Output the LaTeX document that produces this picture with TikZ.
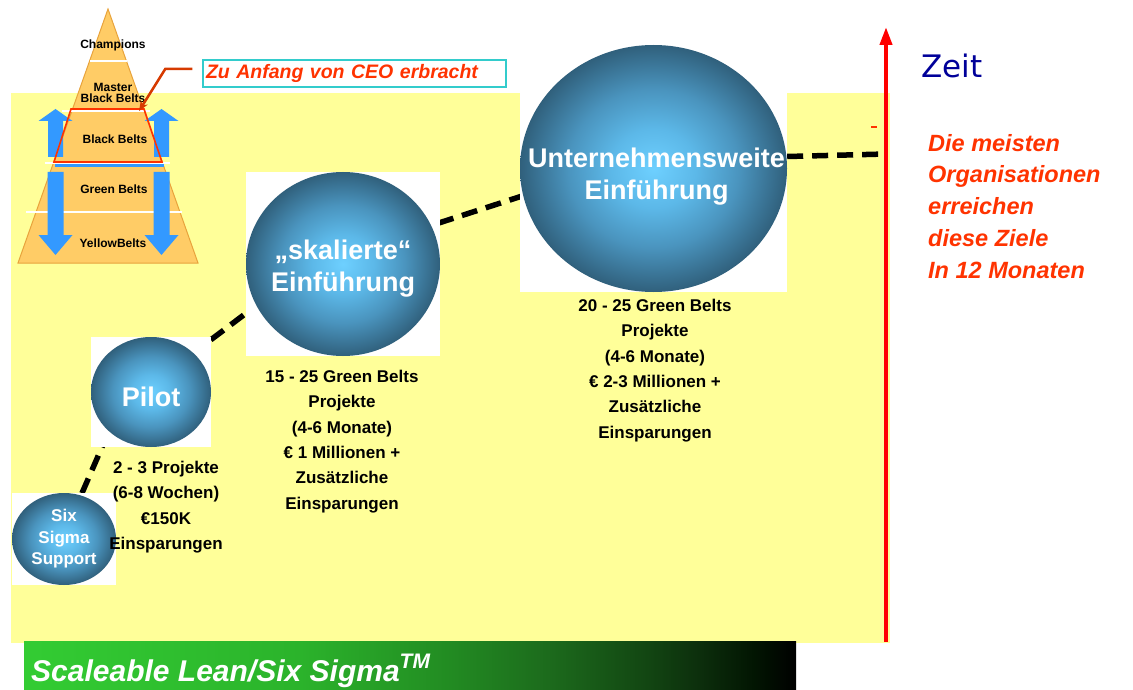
\documentclass[tikz,border=0pt]{standalone}
\usepackage{fontspec}
\setmainfont{Liberation Sans}
\newfontfamily\zeitfont{DejaVu Sans}
\usetikzlibrary{arrows.meta,calc,shapes.geometric}

\definecolor{paperyellow}{HTML}{FFFF99}
\definecolor{pyrfill}{HTML}{FFCC66}
\definecolor{pyredge}{HTML}{E8A33C}
\definecolor{beltblue}{HTML}{3399FF}
\definecolor{alertred}{HTML}{FF3300}
\definecolor{calloutline}{HTML}{D63A00}
\definecolor{boxcyan}{HTML}{33CCCC}
\definecolor{zeitblue}{HTML}{000099}
\definecolor{ballcore}{HTML}{6ED0FF}
\definecolor{ballinner}{HTML}{5CB8E8}
\definecolor{ballmid}{HTML}{4A94BE}
\definecolor{balledge}{HTML}{30607C}
\definecolor{barA}{HTML}{33CC33}
\definecolor{barB}{HTML}{2BB32B}
\definecolor{barC}{HTML}{228B22}
\definecolor{barD}{HTML}{1C6A1C}
\definecolor{barE}{HTML}{124512}
\definecolor{barF}{HTML}{0C2E0C}
\definecolor{barG}{HTML}{021502}

% glossy sphere for the rollout stages
\pgfdeclareradialshading{ball}{\pgfpoint{0bp}{0bp}}{%
  color(0bp)=(ballcore); color(8bp)=(ballinner); color(16bp)=(ballmid);
  color(25bp)=(balledge); color(50bp)=(balledge)}
% title bar fading from green to black
\pgfdeclarehorizontalshading{greenbar}{100bp}{%
  color(0bp)=(barA); color(25bp)=(barA); color(42.9bp)=(barB);
  color(52.6bp)=(barC); color(59.1bp)=(barD); color(65.5bp)=(barE);
  color(68.8bp)=(barF); color(72.3bp)=(barG); color(75bp)=(black);
  color(100bp)=(black)}

\pgfdeclarelayer{paper}
\pgfdeclarelayer{conn}
\pgfsetlayers{paper,conn,main}

\begin{document}
\begin{tikzpicture}[x=1pt,y=-1pt,
  ballbox/.style={rectangle, fill=white, inner sep=0pt,
    path picture={\shade[shading=ball]
      let \p1=($(path picture bounding box.north east)-(path picture bounding box.center)$)
      in (path picture bounding box.center) ellipse [x radius=\x1, y radius=\y1];}},
  ballcaption/.style={inner sep=0pt, text=white, align=center,
    font=\bfseries\fontsize{27}{32}\selectfont},
  infotext/.style={anchor=north, inner sep=0pt, align=center,
    font=\bfseries\fontsize{17}{25.3}\selectfont},
  beltlabel/.style={inner sep=0pt, align=center, font=\bfseries\fontsize{12}{11}\selectfont},
  roadmap/.style={line width=5.5pt, dash pattern=on 16pt off 9pt},
  sepline/.style={white, line width=1.2pt},
]
\useasboundingbox (0,0) rectangle (1133,690);

% yellow working area
\begin{pgfonlayer}{paper}
  \fill[paperyellow] (11,93) rectangle (890,643);
\end{pgfonlayer}

% belt pyramid
\filldraw[fill=pyrfill, draw=pyredge, line width=1pt] (108,9) -- (198,263) -- (18,263) -- cycle;
\draw[sepline] (90,61) -- (127,61);
\draw[sepline] (62,111) -- (150,111);
\draw[sepline] (45,163) -- (170,163);
\draw[sepline] (26,212) -- (182,212);
\foreach \cx in {55.5,161.5}{
  \fill[beltblue] (\cx-7.5,157) -- (\cx-7.5,121) -- (\cx-17,121) -- (\cx,109)
    -- (\cx+17,121) -- (\cx+7.5,121) -- (\cx+7.5,157) -- cycle;
  \fill[beltblue] (\cx-8,172) -- (\cx+8,172) -- (\cx+8,235) -- (\cx+17,235)
    -- (\cx,255) -- (\cx-17,235) -- (\cx-8,235) -- cycle;
}
\draw[alertred, line width=1.6pt] (71,109) -- (144,109) -- (162,162) -- (54,162) -- cycle;
\draw[beltblue, line width=3pt] (55,165.5) -- (164,165.5);

\node[beltlabel] (lchamp) at (113,45) {Champions};
\node[beltlabel] (lmaster) at (113,92.5) {Master\\Black Belts};
\node[beltlabel] (lblack) at (115,139) {Black Belts};
\node[beltlabel] (lgreen) at (114,189) {Green Belts};
\node[beltlabel] (lyellow) at (113,243) {YellowBelts};

% callout
\node[draw=boxcyan, line width=1.5pt, fill=white, minimum height=27pt,
  inner xsep=3pt, inner ysep=0pt, text width=297pt, align=left, text=alertred,
  font=\bfseries\itshape\fontsize{19.5}{20}\selectfont] (co) at (354.5,73.5)
  {Zu Anfang von CEO erbracht};
\coordinate (mbb) at (139,111);
\draw[calloutline, line width=2.5pt, -{Stealth[length=10pt,width=8pt]}]
  ($(co.west)+(-10,-4.5)$) -- ++(-27,0) -- (mbb);

% rollout stages
\node[ballbox, minimum width=104pt, minimum height=92pt] (sup) at (64,539) {};
\node[ballbox, minimum width=120pt, minimum height=110pt] (pil) at (151,392) {};
\node[ballbox, minimum width=194pt, minimum height=184pt] (ska) at (343,264) {};
\node[ballbox, minimum width=267pt, minimum height=247pt] (unt) at (653.5,168.5) {};

\node[ballcaption, font=\bfseries\fontsize{17}{21.5}\selectfont] (supT) at (sup.center) {Six\\Sigma\\Support};
\node[ballcaption] (pilT) at ($(pil.center)+(0,5)$) {Pilot};
\node[ballcaption] (skaT) at ($(ska.center)+(0,5)$) {„skalierte“\\Einführung};
\node[ballcaption] (untT) at ($(unt.center)+(3,8)$) {Unternehmensweite\\Einführung};

\node[infotext] (infoA) at (166,461) {2 - 3 Projekte\\(6-8 Wochen)\\€150K\hspace*{13pt}\\Einsparungen};
\node[infotext] (infoB) at (342,370) {15 - 25 Green Belts\\Projekte\\(4-6 Monate)\\€ 1 Millionen +\\Zusätzliche\\Einsparungen};
\node[infotext] (infoC) at (655,299) {20 - 25 Green Belts\\Projekte\\(4-6 Monate)\\€ 2-3 Millionen +\\Zusätzliche\\Einsparungen};

% time axis
\coordinate (zbot) at (886,642);
\coordinate (ztop) at (886,27);
\coordinate (zjoin) at (886,154);
\draw[red, line width=4pt, -{Triangle[length=18pt,width=12pt]}] (zbot) -- (ztop);
\draw[alertred, line width=1.5pt] (871,127) -- (877,127);
\node[text=zeitblue, inner sep=0pt, font=\zeitfont\fontsize{31}{31}\selectfont] (zeitl) at (952,66) {Zeit};

\node[anchor=north west, inner sep=0pt, align=left, text=alertred,
  font=\bfseries\itshape\fontsize{23.5}{31.75}\selectfont] (goal) at (928,134)
  {Die meisten\\Organisationen\\erreichen\\diese Ziele\\In 12 Monaten};

% dashed rollout path behind the stages
\begin{pgfonlayer}{conn}
  \draw[roadmap] ($(sup.center)+(-2,0)$) -- ($(pil.center)+(-25,0)$);
  \draw[roadmap] ($(pil.center)+(0,-7)$) -- ($(ska.center)+(0,-24)$);
  \draw[roadmap] ($(ska.center)+(0,-10)$) -- ($(unt.center)+(0,-15)$);
  \draw[roadmap] ($(unt.east)+(0,-12)$) -- (zjoin);
\end{pgfonlayer}

% title bar
\shade[shading=greenbar] (24,641) rectangle (796,690);
\node[anchor=base west, inner sep=0pt, text=white,
  font=\bfseries\itshape\fontsize{30}{30}\selectfont] (bartext) at (31,681)
  {Scaleable Lean/Six Sigma\raisebox{13pt}{\fontsize{21}{21}\selectfont TM}};
\end{tikzpicture}
\end{document}
